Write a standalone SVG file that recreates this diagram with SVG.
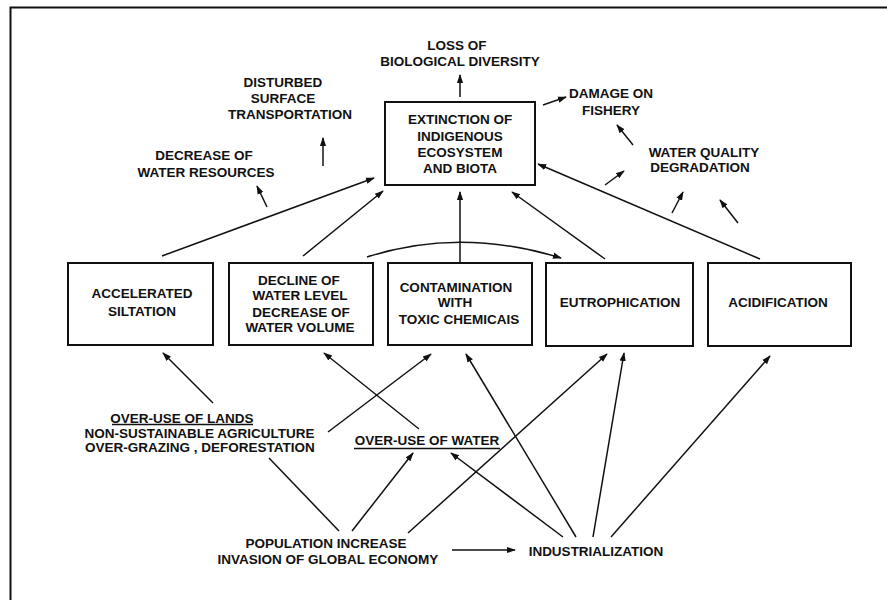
<svg xmlns="http://www.w3.org/2000/svg" width="887" height="600" viewBox="0 0 887 600">
<style>
text{font-family:"Liberation Sans",Arial,sans-serif;font-weight:bold;font-size:13.5px;fill:#111;text-anchor:middle}
.box{fill:#fff;stroke:#111;stroke-width:2}
.c{fill:none;stroke:#111;stroke-width:1.5}
.u{stroke:#111;stroke-width:1.5}
</style>
<defs>
<marker id="ah" viewBox="0 0 10 10" refX="9" refY="5" markerWidth="9" markerHeight="9" markerUnits="userSpaceOnUse" orient="auto">
<path d="M0,1.5 L10,5 L0,8.5 Z" fill="#111"/>
</marker>
</defs>
<rect width="887" height="600" fill="#fff"/>
<path d="M10.5,600 L10.5,7.5 L887,7.5" fill="none" stroke="#111" stroke-width="2"/>

<g id="loss"><text x="457" y="50">LOSS OF</text><text x="460" y="66">BIOLOGICAL DIVERSITY</text></g>
<g id="disturbed"><text x="283" y="87">DISTURBED</text><text x="283" y="103">SURFACE</text><text x="290" y="119">TRANSPORTATION</text></g>
<g id="decrease"><text x="204" y="160">DECREASE OF</text><text x="206" y="177">WATER RESOURCES</text></g>
<g id="fishery"><text x="611" y="98">DAMAGE ON</text><text x="611" y="115">FISHERY</text></g>
<g id="wq"><text x="704" y="157">WATER QUALITY</text><text x="700" y="172">DEGRADATION</text></g>

<g id="extinction"><rect class="box" x="385" y="102" width="150" height="83"/>
<text x="460" y="124">EXTINCTION OF</text><text x="460" y="141">INDIGENOUS</text><text x="460" y="157">ECOSYSTEM</text><text x="460" y="173">AND BIOTA</text></g>

<g id="siltation"><rect class="box" x="68" y="263" width="145" height="82"/>
<text x="142" y="298">ACCELERATED</text><text x="142" y="316">SILTATION</text></g>
<g id="decline"><rect class="box" x="229" y="263" width="144" height="82"/>
<text x="299" y="285">DECLINE OF</text><text x="300" y="300">WATER LEVEL</text><text x="301" y="317">DECREASE OF</text><text x="300" y="332">WATER VOLUME</text></g>
<g id="contamination"><rect class="box" x="388" y="263" width="144" height="82"/>
<text x="456" y="292">CONTAMINATION</text><text x="455" y="307">WITH</text><text x="459" y="324">TOXIC CHEMICAIS</text></g>
<g id="eutrophication"><rect class="box" x="546" y="263" width="147" height="83"/>
<text x="620" y="307">EUTROPHICATION</text></g>
<g id="acidification"><rect class="box" x="708" y="263" width="143" height="83"/>
<text x="778" y="307">ACIDIFICATION</text></g>

<g id="lands"><text x="182" y="423">OVER-USE OF LANDS</text><line class="u" x1="112" y1="424.5" x2="253" y2="424.5"/>
<text x="199.5" y="438">NON-SUSTAINABLE AGRICULTURE</text><text x="200" y="452">OVER-GRAZING , DEFORESTATION</text></g>
<g id="water"><text x="427" y="445">OVER-USE OF WATER</text><line class="u" x1="354" y1="448.5" x2="500" y2="448.5"/></g>
<g id="population"><text x="326" y="548">POPULATION INCREASE</text><text x="328" y="564">INVASION OF GLOBAL ECONOMY</text></g>
<g id="industrialization"><text x="596" y="556">INDUSTRIALIZATION</text></g>

<g id="connectors">
<line class="c" x1="460" y1="97" x2="460" y2="75" marker-end="url(#ah)"/>
<line class="c" x1="323" y1="166" x2="323" y2="138" marker-end="url(#ah)"/>
<line class="c" x1="267" y1="207" x2="257" y2="186" marker-end="url(#ah)"/>
<line class="c" x1="543" y1="105" x2="566" y2="97" marker-end="url(#ah)"/>
<line class="c" x1="633" y1="145" x2="617" y2="125" marker-end="url(#ah)"/>
<line class="c" x1="605" y1="185" x2="624" y2="171" marker-end="url(#ah)"/>
<line class="c" x1="672" y1="213" x2="683" y2="192" marker-end="url(#ah)"/>
<line class="c" x1="738" y1="223" x2="720" y2="200" marker-end="url(#ah)"/>

<line class="c" x1="162" y1="256" x2="374" y2="178" marker-end="url(#ah)"/>
<line class="c" x1="303" y1="256" x2="383" y2="191" marker-end="url(#ah)"/>
<line class="c" x1="460" y1="262" x2="460" y2="192" marker-end="url(#ah)"/>
<line class="c" x1="605" y1="259" x2="512" y2="192" marker-end="url(#ah)"/>
<line class="c" x1="760" y1="259" x2="538" y2="164" marker-end="url(#ah)"/>
<path class="c" d="M367,257 Q460,227 561,258" marker-end="url(#ah)"/>

<line class="c" x1="213" y1="403" x2="163" y2="353" marker-end="url(#ah)"/>
<line class="c" x1="419" y1="429" x2="324" y2="353" marker-end="url(#ah)"/>
<line class="c" x1="328" y1="432" x2="431" y2="354" marker-end="url(#ah)"/>
<line class="c" x1="269" y1="458" x2="339" y2="531"/>
<line class="c" x1="352" y1="531" x2="413" y2="453" marker-end="url(#ah)"/>
<line class="c" x1="408" y1="533" x2="607" y2="354" marker-end="url(#ah)"/>
<line class="c" x1="563" y1="537" x2="451" y2="453" marker-end="url(#ah)"/>
<line class="c" x1="576" y1="537" x2="466" y2="354" marker-end="url(#ah)"/>
<line class="c" x1="593" y1="537" x2="624" y2="353" marker-end="url(#ah)"/>
<line class="c" x1="611" y1="537" x2="770" y2="356" marker-end="url(#ah)"/>
<line class="c" x1="452" y1="550" x2="515" y2="550" marker-end="url(#ah)"/>
</g>
</svg>
